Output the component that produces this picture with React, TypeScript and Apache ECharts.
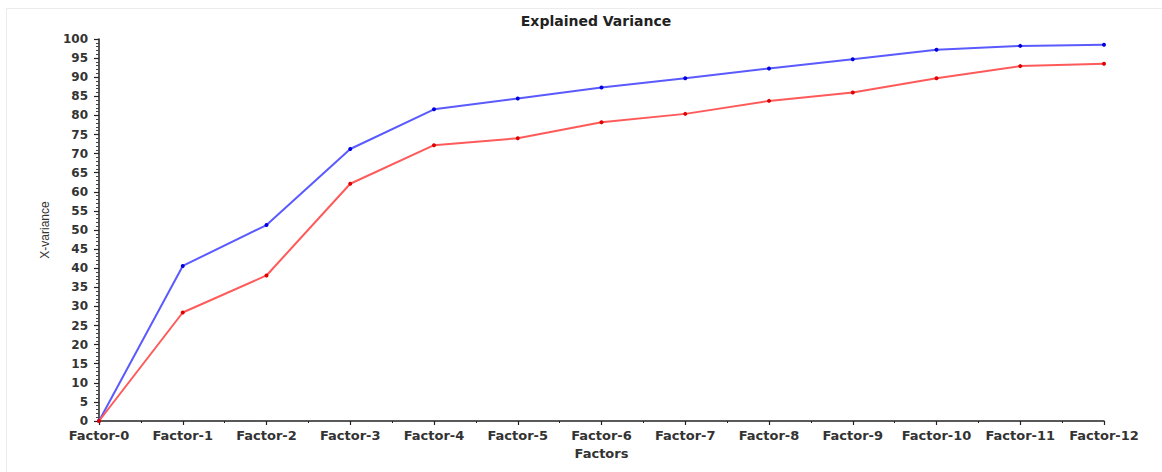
import React, { useEffect, useRef } from "react";
import * as echarts from "echarts";

const categories = [
  "Factor-0", "Factor-1", "Factor-2", "Factor-3", "Factor-4", "Factor-5", "Factor-6",
  "Factor-7", "Factor-8", "Factor-9", "Factor-10", "Factor-11", "Factor-12",
];
const blueValues = [0, 40.6, 51.3, 71.2, 81.6, 84.4, 87.3, 89.7, 92.3, 94.7, 97.2, 98.2, 98.5];
const redValues = [0, 28.4, 38.1, 62.1, 72.2, 74.0, 78.2, 80.4, 83.8, 86.0, 89.7, 92.9, 93.5];

export default function App() {
  const ref = useRef<HTMLDivElement>(null);
  useEffect(() => {
    if (!ref.current) return;
    const chart = echarts.init(ref.current, undefined, { renderer: "svg" });
    const toPairs = (arr: number[]) => arr.map((v, i) => [i, v]);
    chart.setOption({
      animation: false,
      backgroundColor: "#ffffff",
      title: {
        text: "Explained Variance",
        left: 591,
        top: 9,
        textAlign: "center",
        textStyle: { fontFamily: "DejaVu Sans", fontSize: 14, fontWeight: "bold", color: "#222" },
      },
      graphic: [
        {
          type: "rect",
          shape: { x: 6.5, y: 8.5, width: 1300, height: 600 },
          style: { fill: "none", stroke: "#ececec", lineWidth: 1 },
          silent: true,
        },
      ],
      grid: { left: 99, right: 58, top: 39, bottom: 51, containLabel: false },
      xAxis: {
        type: "value",
        min: 0,
        max: categories.length - 1,
        interval: 1,
        name: "Factors",
        nameLocation: "middle",
        nameGap: 24,
        nameTextStyle: { fontFamily: "DejaVu Sans", fontSize: 13, fontWeight: "bold", color: "#333" },
        axisLine: { show: true, onZero: false, lineStyle: { color: "#222", width: 1.5 } },
        axisTick: { show: true, inside: false, length: 4, lineStyle: { color: "#222", width: 1.2 } },
        minorTick: { show: true, splitNumber: 2, length: 2, lineStyle: { color: "#222", width: 1 } },
        splitLine: { show: false },
        axisLabel: {
          margin: 8,
          fontFamily: "DejaVu Sans",
          fontSize: 13,
          fontWeight: "bold",
          color: "#333",
          formatter: (v: number) => categories[Math.round(v)] ?? "",
        },
      },
      yAxis: {
        type: "value",
        min: 0,
        max: 100,
        interval: 5,
        name: "X-variance",
        nameLocation: "middle",
        nameGap: 48,
        nameRotate: 90,
        nameTextStyle: { fontFamily: "Liberation Sans", fontSize: 12, color: "#333" },
        axisLine: { show: true, lineStyle: { color: "#222", width: 1.5 } },
        axisTick: { show: true, length: 5, lineStyle: { color: "#222", width: 1.2 } },
        minorTick: { show: true, splitNumber: 5, length: 3, lineStyle: { color: "#444", width: 1 } },
        splitLine: { show: false },
        axisLabel: { margin: 11, fontFamily: "DejaVu Sans", fontSize: 12, fontWeight: "bold", color: "#333" },
      },
      series: [
        {
          name: "Blue",
          type: "line",
          data: toPairs(blueValues),
          symbol: "circle",
          symbolSize: 4,
          lineStyle: { color: "#5a5aff", width: 2 },
          itemStyle: { color: "#0000e0" },
          z: 3,
        },
        {
          name: "Red",
          type: "line",
          data: toPairs(redValues),
          symbol: "circle",
          symbolSize: 4,
          lineStyle: { color: "#ff5a5a", width: 2 },
          itemStyle: { color: "#e00000" },
          z: 4,
        },
      ],
    });
    return () => chart.dispose();
  }, []);
  return (
    <div
      ref={ref}
      style={{ position: "fixed", left: 0, top: 0, width: 1162, height: 472, background: "#fff" }}
    />
  );
}
